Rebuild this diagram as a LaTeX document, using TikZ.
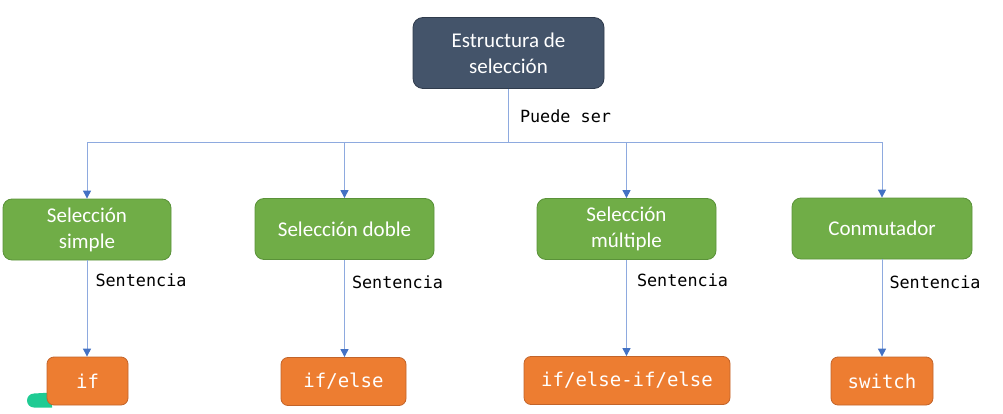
\documentclass[tikz,border=0pt]{standalone}
\usepackage{fontspec}
\setmainfont{Carlito}
\setmonofont{DejaVu Sans Mono}
\usetikzlibrary{arrows.meta}
\definecolor{topfill}{HTML}{44546A}
\definecolor{topdraw}{HTML}{2F3B4C}
\definecolor{grfill}{HTML}{70AD47}
\definecolor{grdraw}{HTML}{5A9239}
\definecolor{orfill}{HTML}{ED7D31}
\definecolor{ordraw}{HTML}{C2642A}
\definecolor{linec}{HTML}{8EAADF}
\definecolor{tipc}{HTML}{4472C4}
\definecolor{blob}{HTML}{1FCB93}
\tikzset{
  boxbase/.style={rounded corners=9pt, line width=0.8pt, text=white, align=center, inner sep=0pt,
    font=\fontsize{21}{26}\selectfont},
  topbox/.style={boxbase, fill=topfill, draw=topdraw, rounded corners=10pt},
  greenbox/.style={boxbase, fill=grfill, draw=grdraw, minimum height=61pt},
  orangebox/.style={boxbase, fill=orfill, draw=ordraw, rounded corners=7pt, minimum height=48pt,
    font=\ttfamily\fontsize{19}{22}\selectfont},
  conn/.style={draw=linec, line width=1pt},
  arr/.style={conn, -{Triangle[length=8pt,width=8pt,fill=tipc,color=tipc]}},
  lbl/.style={font=\ttfamily\fontsize{16.8}{20}\selectfont, text=black, anchor=west, inner sep=0pt}
}
\begin{document}
\begin{tikzpicture}[x=1pt,y=-1pt]
\useasboundingbox (0,0) rectangle (1003,414);
% teal blob behind the first orange box
\fill[blob] (34,393.5) -- (52,392.5) -- (52,407.5) -- (34,407.5) arc[start angle=270,end angle=90,radius=7pt] -- cycle;

\node[topbox, minimum width=191pt, minimum height=71pt] (top) at (508.5,53) {Estructura de\\selección};

\node[greenbox, minimum width=168pt] (g1) at (87,229.5) {Selección\\simple};
\node[greenbox, minimum width=179pt] (g2) at (344.5,229) {Selección doble};
\node[greenbox, minimum width=179pt] (g3) at (626.5,229) {Selección\\múltiple};
\node[greenbox, minimum width=180pt] (g4) at (882,228.5) {Conmutador};

\node[orangebox, minimum width=81pt] (o1) at (87.5,381) {if};
\node[orangebox, minimum width=125pt] (o2) at (343.5,381.5) {if/else};
\node[orangebox, minimum width=206pt] (o3) at (627,380.5) {if/else-if/else};
\node[orangebox, minimum width=102pt] (o4) at (882,381) {switch};

\coordinate (j) at (508.5,143);
\draw[conn] (top.south) -- node[lbl, pos=0.5, xshift=11pt, yshift=0pt] {Puede ser} (j);
\foreach \g in {g1,g2,g3,g4}{
  \draw[arr] (j) -| (\g.north);
}
\draw[arr] (g1.south) -- node[lbl, pos=0.21, xshift=8pt] {Sentencia} (g1.south |- o1.north);
\draw[arr] (g2.south) -- node[lbl, pos=0.23, xshift=7pt] {Sentencia} (g2.south |- o2.north);
\draw[arr] (g3.south) -- node[lbl, pos=0.21, xshift=10pt] {Sentencia} (g3.south |- o3.north);
\draw[arr] (g4.south) -- node[lbl, pos=0.24, xshift=7pt] {Sentencia} (g4.south |- o4.north);
\end{tikzpicture}
\end{document}
